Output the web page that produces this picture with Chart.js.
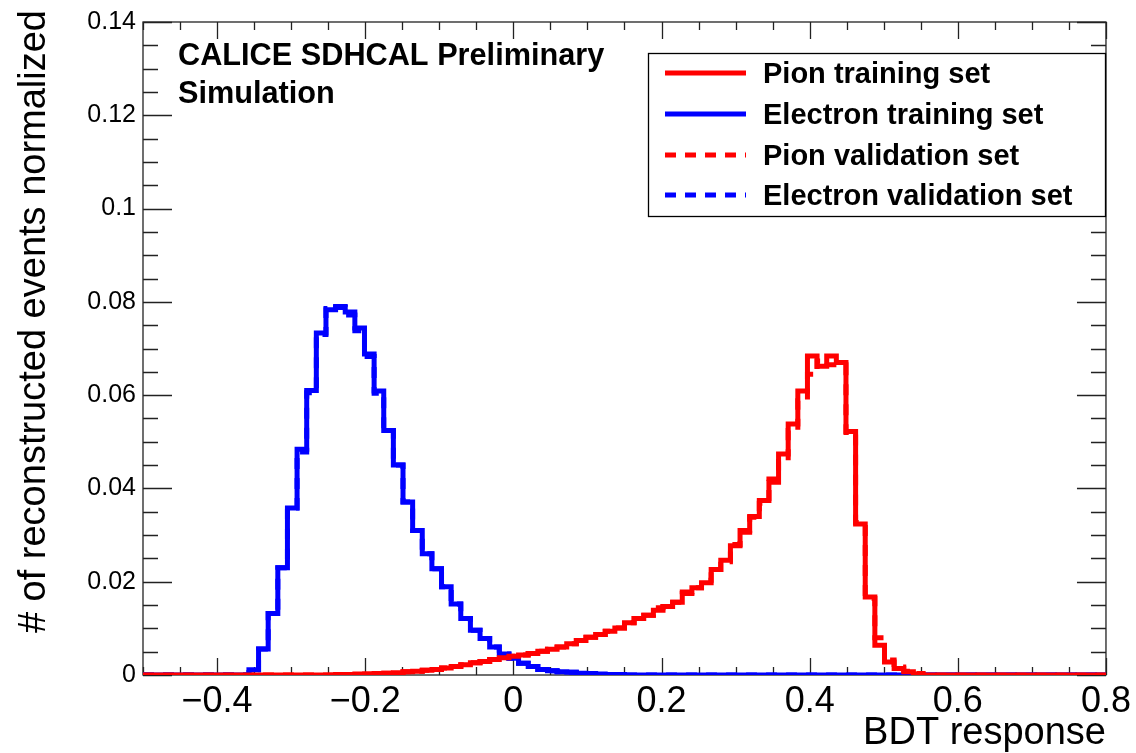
<!DOCTYPE html>
<html>
<head>
<meta charset="utf-8">
<script src="https://cdn.jsdelivr.net/npm/chart.js@4.4.1/dist/chart.umd.min.js"></script>
<style>
  body { margin: 0; background: #fff; }
</style>
</head>
<body>
<canvas id="bdtChart" width="1136" height="753"></canvas>
<script>
// histogram binning (100 bins from -0.5 to 0.8)
const xMin = -0.5;
const xMax = 0.8;
const binWidth = 0.013;

// bin contents
const pionTraining = [
  0, 0, 0, 0, 0, 0, 0, 0, 0, 0,
  0, 0, 0, 0, 0, 0, 0, 0, 0, 0,
  0.0001, 0.0001, 0.0002, 0.0002, 0.0003, 0.0004, 0.0005, 0.0007, 0.0008, 0.0010,
  0.0012, 0.0015, 0.0018, 0.0022, 0.0026, 0.0029, 0.0033, 0.0037, 0.0040, 0.0043,
  0.0046, 0.0051, 0.0055, 0.0060, 0.0067, 0.0074, 0.0081, 0.0087, 0.0094, 0.0101,
  0.0112, 0.0121, 0.0128, 0.0139, 0.0147, 0.0156, 0.0178, 0.0187, 0.0198, 0.0226,
  0.0246, 0.0277, 0.0310, 0.0340, 0.0374, 0.0413, 0.0474, 0.0538, 0.0609, 0.0684,
  0.0662, 0.0684, 0.0670, 0.0522, 0.0324, 0.0167, 0.0064, 0.0028, 0.0014, 0.0007,
  0.0002, 0, 0, 0, 0, 0, 0, 0, 0, 0,
  0, 0, 0, 0, 0, 0, 0, 0, 0, 0
];

const electronTraining = [
  0, 0, 0, 0, 0, 0, 0, 0, 0, 0,
  0, 0.0011, 0.0056, 0.0132, 0.0230, 0.0358, 0.0484, 0.0610, 0.0733, 0.0783,
  0.0788, 0.0778, 0.0744, 0.0688, 0.0609, 0.0524, 0.0450, 0.0371, 0.0310, 0.0260,
  0.0228, 0.0189, 0.0152, 0.0121, 0.0096, 0.0078, 0.0060, 0.0045, 0.0036, 0.0025,
  0.0018, 0.0012, 0.0009, 0.0007, 0.0006, 0.0004, 0.0003, 0.0002, 0.0001, 0.0001,
  0, 0, 0, 0, 0, 0, 0, 0, 0, 0,
  0, 0, 0, 0, 0, 0, 0, 0, 0, 0,
  0, 0, 0, 0, 0, 0, 0, 0, 0, 0,
  0, 0, 0, 0, 0, 0, 0, 0, 0, 0,
  0, 0, 0, 0, 0, 0, 0, 0, 0, 0
];

const pionValidation = [
  0, 0, 0, 0, 0, 0, 0, 0, 0, 0,
  0, 0, 0, 0, 0, 0, 0, 0, 0, 0,
  0.0001, 0.0001, 0.0002, 0.0002, 0.0003, 0.0004, 0.0005, 0.0007, 0.0008, 0.0010,
  0.0012, 0.0015, 0.0018, 0.0022, 0.0026, 0.0029, 0.0033, 0.0037, 0.0040, 0.0043,
  0.0046, 0.0051, 0.0055, 0.0060, 0.0067, 0.0074, 0.0081, 0.0087, 0.0094, 0.0101,
  0.0112, 0.0121, 0.0128, 0.0144, 0.0147, 0.0156, 0.0175, 0.0187, 0.0203, 0.0226,
  0.0243, 0.0280, 0.0306, 0.0338, 0.0368, 0.0420, 0.0458, 0.0524, 0.0588, 0.0645,
  0.0673, 0.0665, 0.0665, 0.0520, 0.0327, 0.0164, 0.0080, 0.0032, 0.0017, 0.0008,
  0.0003, 0, 0, 0, 0, 0, 0, 0, 0, 0,
  0, 0, 0, 0, 0, 0, 0, 0, 0, 0
];

const electronValidation = [
  0, 0, 0, 0, 0, 0, 0, 0, 0, 0,
  0, 0.0011, 0.0056, 0.0132, 0.0230, 0.0358, 0.0478, 0.0605, 0.0730, 0.0786,
  0.0790, 0.0772, 0.0738, 0.0683, 0.0604, 0.0524, 0.0450, 0.0371, 0.0310, 0.0260,
  0.0228, 0.0189, 0.0152, 0.0121, 0.0096, 0.0078, 0.0060, 0.0045, 0.0036, 0.0025,
  0.0018, 0.0012, 0.0009, 0.0007, 0.0006, 0.0004, 0.0003, 0.0002, 0.0001, 0.0001,
  0, 0, 0, 0, 0, 0, 0, 0, 0, 0,
  0, 0, 0, 0, 0, 0, 0, 0, 0, 0,
  0, 0, 0, 0, 0, 0, 0, 0, 0, 0,
  0, 0, 0, 0, 0, 0, 0, 0, 0, 0,
  0, 0, 0, 0, 0, 0, 0, 0, 0, 0
];

const xTickValues = [-0.4, -0.2, 0, 0.2, 0.4, 0.6, 0.8];
const xTickLabels = ["\u22120.4", "\u22120.2", "0", "0.2", "0.4", "0.6", "0.8"];
const yTickValues = [0, 0.02, 0.04, 0.06, 0.08, 0.1, 0.12, 0.14];
const yTickLabels = ["0", "0.02", "0.04", "0.06", "0.08", "0.1", "0.12", "0.14"];

const seriesNames = [
  "Pion training set",
  "Electron training set",
  "Pion validation set",
  "Electron validation set",
];
const yTitle = "# of reconstructed events normalized";

const RED = "#ff0000";
const BLUE = "#0000ff";
const FONT = "'Liberation Sans', Arial, Helvetica, sans-serif";

// turn bin contents into step points at the bin edges
function histPoints(values) {
  const pts = values.map((v, i) => ({ x: xMin + i * binWidth, y: v }));
  pts.push({ x: xMin + values.length * binWidth, y: values[values.length - 1] });
  return pts;
}

function histDataset(label, values, color, dashed) {
  return {
    label: label,
    data: histPoints(values),
    borderColor: color,
    backgroundColor: color,
    borderWidth: 5,
    borderDash: dashed ? [11, 9] : [],
    stepped: "before", // horizontal at the bin value, then vertical at the next edge
    pointRadius: 0,
    fill: false,
    tension: 0,
  };
}

// inward ticks on all four sides + the frame, header, legend, y title
const frameTicks = {
  id: "frameTicks",
  beforeDatasetsDraw(chart) {
    const { ctx, chartArea: a, scales } = chart;
    const xs = scales.x, ys = scales.y;
    ctx.save();
    ctx.strokeStyle = "#222";
    ctx.lineWidth = 1.3;
    ctx.strokeRect(a.left, a.top, a.right - a.left, a.bottom - a.top);
    ctx.beginPath();
    // x ticks: major every 0.2 (from -0.4), minor every 0.05
    for (let k = 0; k <= 26; k++) {
      const v = xMin + k * 0.05;
      const px = Math.round(xs.getPixelForValue(v)) + 0.5;
      const major = Math.abs(Math.round((v + 0.4) / 0.2) * 0.2 - (v + 0.4)) < 1e-6;
      const len = major ? 17 : 8;
      ctx.moveTo(px, a.bottom); ctx.lineTo(px, a.bottom - len);
      ctx.moveTo(px, a.top); ctx.lineTo(px, a.top + len);
    }
    // y ticks: major every 0.02, minor every 0.005
    for (let k = 0; k <= 28; k++) {
      const v = k * 0.005;
      const py = Math.round(ys.getPixelForValue(v)) + 0.5;
      const len = k % 4 === 0 ? 29 : 15;
      ctx.moveTo(a.left, py); ctx.lineTo(a.left + len, py);
      ctx.moveTo(a.right, py); ctx.lineTo(a.right - len, py);
    }
    ctx.stroke();
    ctx.restore();
  },
  afterDraw(chart) {
    const { ctx } = chart;
    ctx.save();
    ctx.fillStyle = "#000";

    // y axis title, rotated, ending near the top
    ctx.save();
    ctx.translate(45, 10);
    ctx.rotate(-Math.PI / 2);
    ctx.font = "38px " + FONT;
    ctx.textAlign = "right";
    ctx.textBaseline = "alphabetic";
    ctx.fillText(yTitle, 0, 0);
    ctx.restore();

    // header text
    ctx.font = "bold 30.7px " + FONT;
    ctx.textAlign = "left";
    ctx.textBaseline = "alphabetic";
    ctx.fillText("CALICE SDHCAL Preliminary", 178, 65);
    ctx.fillText("Simulation", 178, 103);

    // legend box
    const box = { left: 648, top: 53, right: 1105, bottom: 216 };
    ctx.fillStyle = "#fff";
    ctx.fillRect(box.left, box.top, box.right - box.left, box.bottom - box.top);
    ctx.strokeStyle = "#000";
    ctx.lineWidth = 1.3;
    ctx.strokeRect(box.left + 0.5, box.top + 0.5, box.right - box.left, box.bottom - box.top);
    const rows = [73, 114, 155, 195];
    ctx.font = "bold 29px " + FONT;
    chart.data.datasets.forEach((ds, i) => {
      const y = rows[i];
      ctx.strokeStyle = ds.borderColor;
      ctx.lineWidth = 5;
      ctx.setLineDash(ds.borderDash);
      ctx.beginPath();
      ctx.moveTo(665, y);
      ctx.lineTo(746, y);
      ctx.stroke();
      ctx.setLineDash([]);
      ctx.fillStyle = "#000";
      ctx.fillText(ds.label, 763, y + 10);
    });
    ctx.restore();
  },
};

const ctx = document.getElementById("bdtChart").getContext("2d");
const bdtChart = new Chart(ctx, {
  type: "line",
  data: {
    datasets: [
      histDataset(seriesNames[0], pionTraining, RED, false),
      histDataset(seriesNames[1], electronTraining, BLUE, false),
      histDataset(seriesNames[2], pionValidation, RED, true),
      histDataset(seriesNames[3], electronValidation, BLUE, true),
    ],
  },
  options: {
    responsive: false,
    animation: false,
    devicePixelRatio: 1,
    layout: { padding: { top: 20, right: 30, left: 0, bottom: 0 } },
    plugins: {
      legend: { display: false },
      tooltip: { enabled: false },
    },
    scales: {
      x: {
        type: "linear",
        min: xMin,
        max: xMax,
        grid: { display: false, drawTicks: false },
        border: { display: false },
        afterBuildTicks: (scale) => {
          scale.ticks = xTickValues.map((v) => ({ value: v }));
        },
        afterFit: (scale) => { scale.height = 78; },
        ticks: {
          autoSkip: false,
          maxRotation: 0,
          padding: 5,
          color: "#000",
          font: { family: FONT, size: 36 },
          callback: (value, index) => xTickLabels[index],
        },
        title: {
          display: true,
          text: "BDT response",
          align: "end",
          color: "#000",
          font: { family: FONT, size: 38, lineHeight: 1.05 },
          padding: { top: 0, bottom: 0 },
        },
      },
      y: {
        type: "linear",
        min: 0,
        max: 0.14,
        grid: { display: false, drawTicks: false },
        border: { display: false },
        afterBuildTicks: (scale) => {
          scale.ticks = yTickValues.map((v) => ({ value: v }));
        },
        afterFit: (scale) => { scale.width = 143; },
        ticks: {
          autoSkip: false,
          padding: 7,
          color: "#000",
          font: { family: FONT, size: 25 },
          callback: (value, index) => yTickLabels[index],
        },
        title: { display: false },
      },
    },
  },
  plugins: [frameTicks],
});
</script>
</body>
</html>
